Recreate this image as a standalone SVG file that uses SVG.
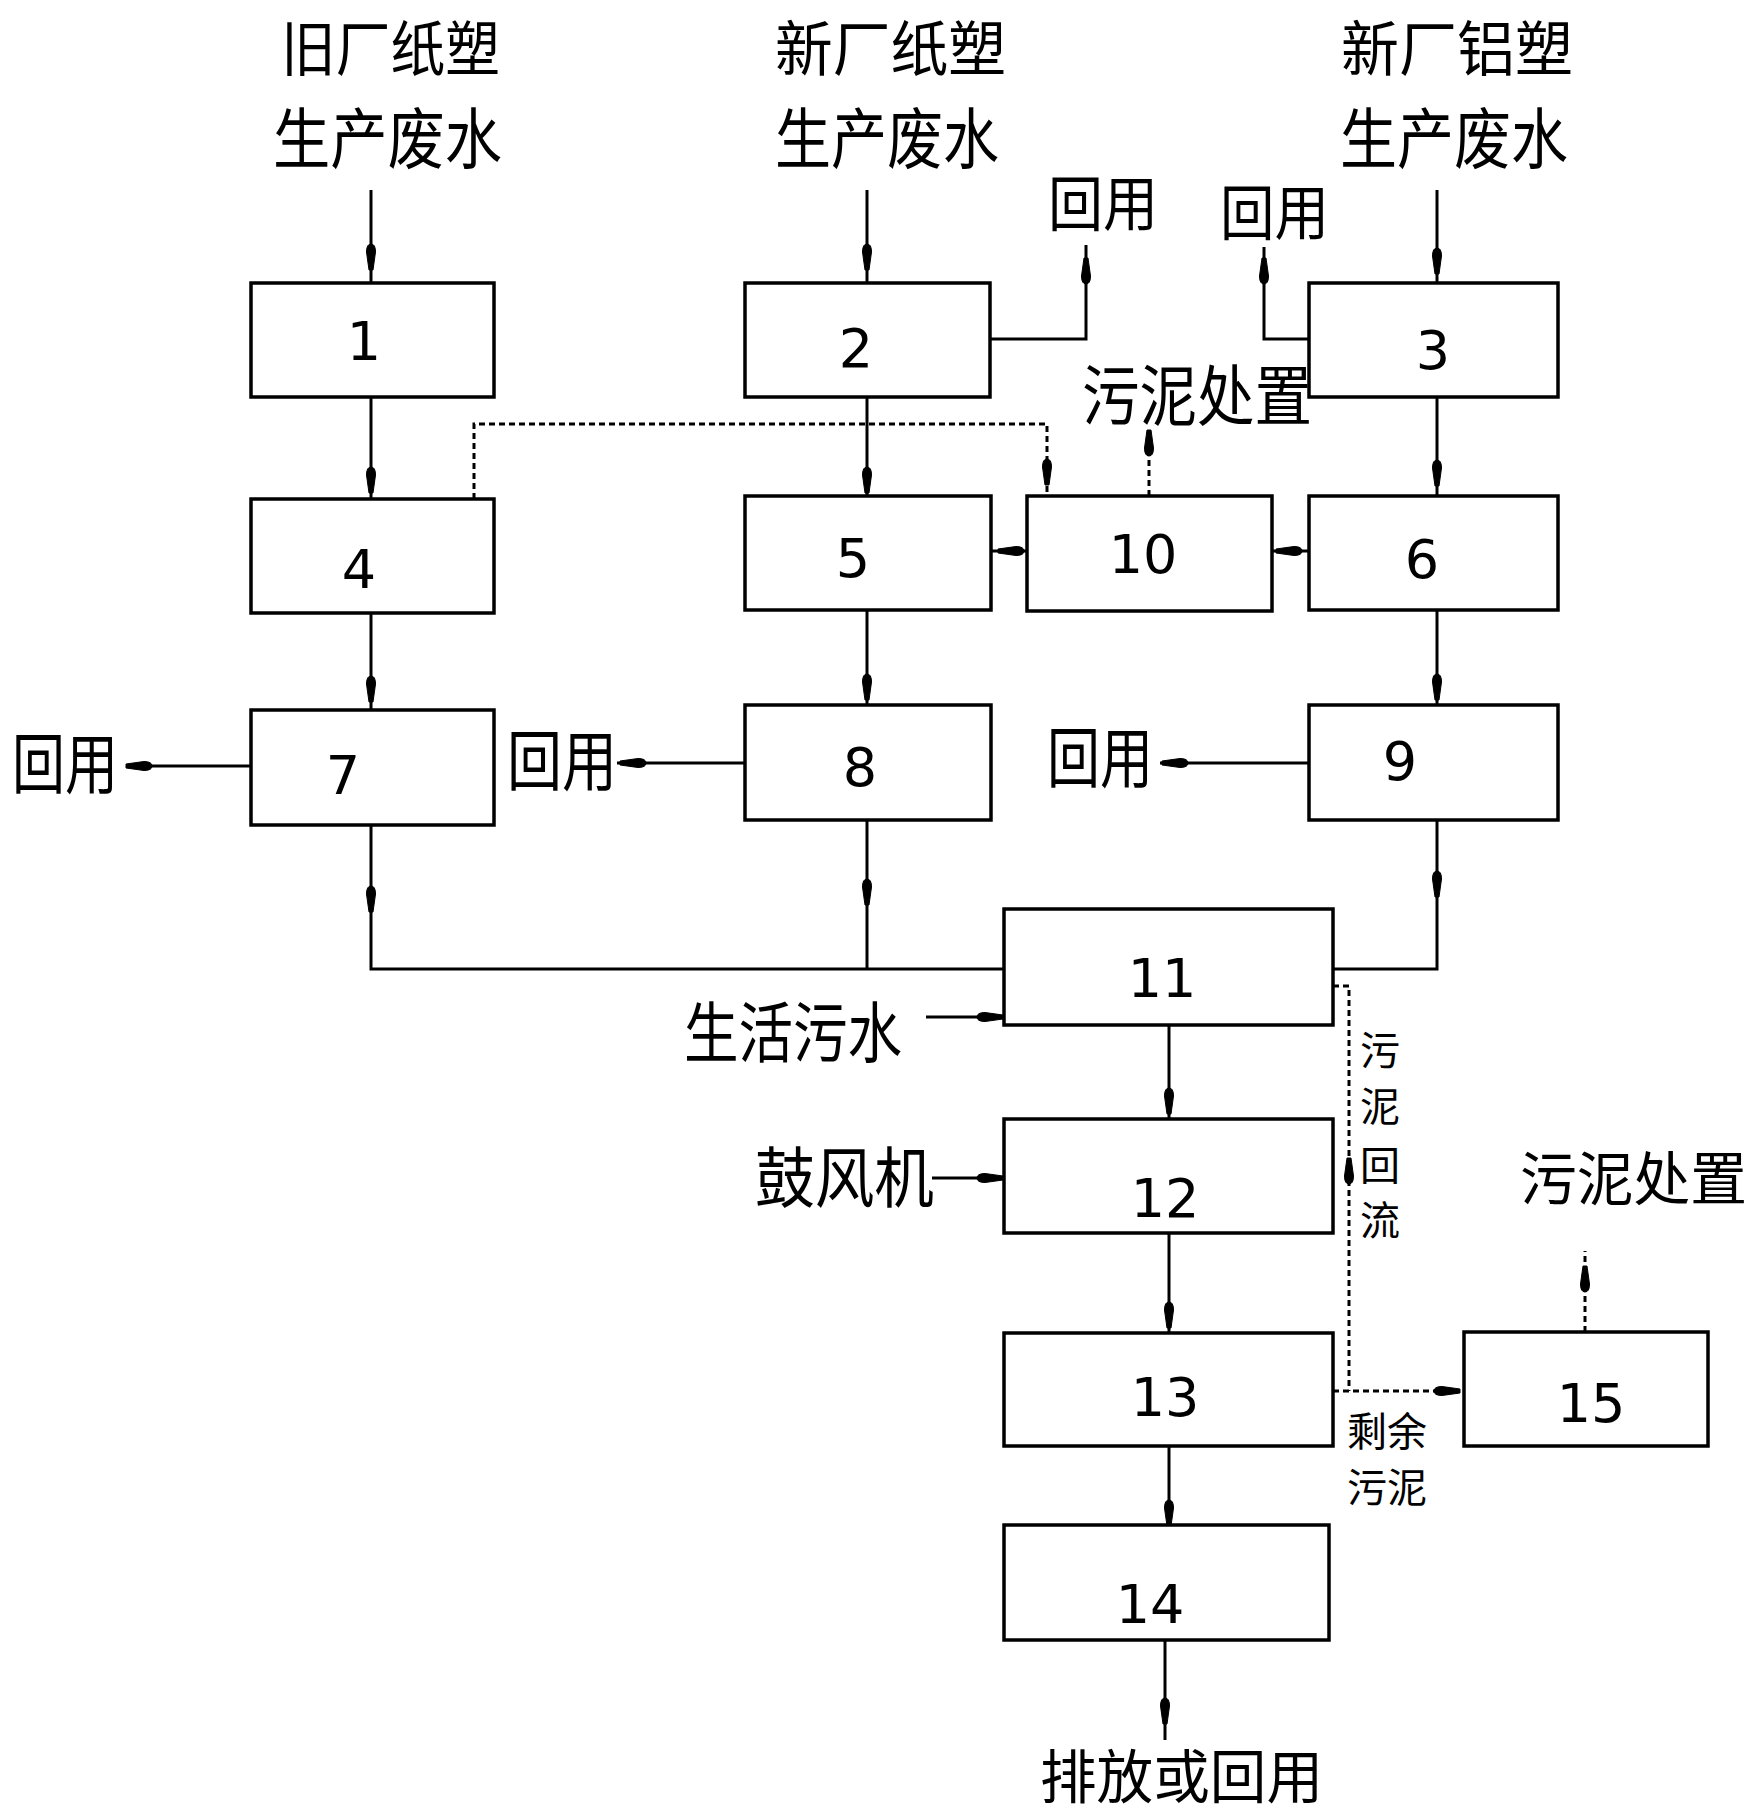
<svg xmlns="http://www.w3.org/2000/svg" xmlns:xlink="http://www.w3.org/1999/xlink" width="1760" height="1816" viewBox="0 0 1760 1816">
<style>
.box{fill:#fff;stroke:#000;stroke-width:3.5}
.num{font-family:"DejaVu Sans",sans-serif;font-size:54px;text-anchor:middle;fill:#000}
.lbl{font-family:"Noto Sans CJK SC","Noto Sans CJK JP",sans-serif;fill:#000}
.big{font-size:66px}
.top{font-size:60px}
.mid{font-size:60px}
.sm{font-size:40px}
.ln{fill:none;stroke:#000;stroke-width:3}
.dash{stroke-dasharray:6 4}
.ah{fill:#000;stroke:#000;stroke-width:1;stroke-linejoin:round}
</style>
<defs>
<path id="ah" class="ah" d="M0,-2 L-18,-4.5 Q-26,-4.5 -26,0 Q-26,4.5 -18,4.5 L0,2 Z"/>
</defs>
<rect x="0" y="0" width="1760" height="1816" fill="#fff"/>

<g id="connectors">
<path class="ln" d="M371,190 V283"/>
<path class="ln" d="M867,190 V283"/>
<path class="ln" d="M1437,190 V283"/>
<path class="ln" d="M371,397 V499"/>
<path class="ln" d="M867,397 V496"/>
<path class="ln" d="M1437,397 V496"/>
<path class="ln" d="M990,339 H1086 V245"/>
<path class="ln" d="M1309,339 H1264 V247"/>
<path class="ln" d="M1027,551 H991"/>
<path class="ln" d="M1309,551 H1272"/>
<path class="ln" d="M371,613 V710"/>
<path class="ln" d="M867,610 V705"/>
<path class="ln" d="M1437,610 V705"/>
<path class="ln" d="M251,766 H128"/>
<path class="ln" d="M745,763 H617"/>
<path class="ln" d="M1309,763 H1160"/>
<path class="ln" d="M371,825 V969 H1004"/>
<path class="ln" d="M867,820 V969"/>
<path class="ln" d="M1437,820 V969 H1333"/>
<path class="ln" d="M926,1017 H1004"/>
<path class="ln" d="M1169,1025 V1119"/>
<path class="ln" d="M932,1178 H1004"/>
<path class="ln" d="M1169,1233 V1333"/>
<path class="ln" d="M1169,1446 V1525"/>
<path class="ln" d="M1165,1640 V1740"/>
<path class="ln dash" d="M474,499 V424 H1047 V496"/>
<path class="ln dash" d="M1149,496 V429"/>
<path class="ln dash" d="M1333,986 H1349 V1391"/>
<path class="ln dash" d="M1333,1391 H1464"/>
<path class="ln dash" d="M1585,1332 V1251"/>

<use xlink:href="#ah" transform="translate(371,270) rotate(90)"/>
<use xlink:href="#ah" transform="translate(867,270) rotate(90)"/>
<use xlink:href="#ah" transform="translate(1437,274) rotate(90)"/>
<use xlink:href="#ah" transform="translate(371,493) rotate(90)"/>
<use xlink:href="#ah" transform="translate(867,493) rotate(90)"/>
<use xlink:href="#ah" transform="translate(1437,486) rotate(90)"/>
<use xlink:href="#ah" transform="translate(1086,258) rotate(-90)"/>
<use xlink:href="#ah" transform="translate(1264,258) rotate(-90)"/>
<use xlink:href="#ah" transform="translate(998,551) rotate(180)"/>
<use xlink:href="#ah" transform="translate(1276,551) rotate(180)"/>
<use xlink:href="#ah" transform="translate(371,702) rotate(90)"/>
<use xlink:href="#ah" transform="translate(867,700) rotate(90)"/>
<use xlink:href="#ah" transform="translate(1437,700) rotate(90)"/>
<use xlink:href="#ah" transform="translate(126,766) rotate(180)"/>
<use xlink:href="#ah" transform="translate(620,763) rotate(180)"/>
<use xlink:href="#ah" transform="translate(1162,763) rotate(180)"/>
<use xlink:href="#ah" transform="translate(371,912) rotate(90)"/>
<use xlink:href="#ah" transform="translate(867,905) rotate(90)"/>
<use xlink:href="#ah" transform="translate(1437,897) rotate(90)"/>
<use xlink:href="#ah" transform="translate(1003,1017)"/>
<use xlink:href="#ah" transform="translate(1169,1114) rotate(90)"/>
<use xlink:href="#ah" transform="translate(1003,1178)"/>
<use xlink:href="#ah" transform="translate(1169,1328) rotate(90)"/>
<use xlink:href="#ah" transform="translate(1169,1526) rotate(90)"/>
<use xlink:href="#ah" transform="translate(1165,1724) rotate(90)"/>
<use xlink:href="#ah" transform="translate(1047,485) rotate(90)"/>
<use xlink:href="#ah" transform="translate(1149,430) rotate(-90)"/>
<use xlink:href="#ah" transform="translate(1349,1158) rotate(-90)"/>
<use xlink:href="#ah" transform="translate(1460,1391)"/>
<use xlink:href="#ah" transform="translate(1585,1266) rotate(-90)"/>
</g>

<g id="src1"><text class="lbl top" x="281" y="71" textLength="219" lengthAdjust="spacingAndGlyphs">旧厂纸塑</text><text class="lbl big" x="273" y="163" textLength="229" lengthAdjust="spacingAndGlyphs">生产废水</text></g>
<g id="src2"><text class="lbl top" x="775" y="71" textLength="231" lengthAdjust="spacingAndGlyphs">新厂纸塑</text><text class="lbl big" x="775" y="163" textLength="224" lengthAdjust="spacingAndGlyphs">生产废水</text></g>
<g id="src3"><text class="lbl top" x="1341" y="71" textLength="232" lengthAdjust="spacingAndGlyphs">新厂铝塑</text><text class="lbl big" x="1340" y="163" textLength="228" lengthAdjust="spacingAndGlyphs">生产废水</text></g>

<g id="reuse2"><text class="lbl mid" x="1048" y="226" textLength="110" lengthAdjust="spacingAndGlyphs">回用</text></g>
<g id="reuse3"><text class="lbl mid" x="1220" y="235" textLength="109" lengthAdjust="spacingAndGlyphs">回用</text></g>
<g id="reuse7"><text class="lbl big" x="12" y="788" textLength="106" lengthAdjust="spacingAndGlyphs">回用</text></g>
<g id="reuse8"><text class="lbl big" x="507" y="785" textLength="110" lengthAdjust="spacingAndGlyphs">回用</text></g>
<g id="reuse9"><text class="lbl big" x="1047" y="782" textLength="106" lengthAdjust="spacingAndGlyphs">回用</text></g>
<g id="sludge1"><text class="lbl big" x="1082" y="420" textLength="230" lengthAdjust="spacingAndGlyphs">污泥处置</text></g>
<g id="domestic"><text class="lbl big" x="684" y="1057" textLength="218" lengthAdjust="spacingAndGlyphs">生活污水</text></g>
<g id="blower"><text class="lbl big" x="755" y="1202" textLength="179" lengthAdjust="spacingAndGlyphs">鼓风机</text></g>
<g id="outlet"><text class="lbl" style="font-size:58px" x="1040" y="1798" textLength="283" lengthAdjust="spacingAndGlyphs">排放或回用</text></g>
<g id="sludge2"><text class="lbl" style="font-size:58px" x="1520" y="1200" textLength="227" lengthAdjust="spacingAndGlyphs">污泥处置</text></g>
<g id="returnlbl">
<text class="lbl sm" x="1380" y="1065" text-anchor="middle">污</text>
<text class="lbl sm" x="1380" y="1121" text-anchor="middle">泥</text>
<text class="lbl sm" x="1380" y="1180" text-anchor="middle">回</text>
<text class="lbl sm" x="1380" y="1235" text-anchor="middle">流</text>
</g>
<g id="excesslbl">
<text class="lbl sm" x="1347" y="1446" textLength="80" lengthAdjust="spacingAndGlyphs">剩余</text>
<text class="lbl sm" x="1347" y="1502" textLength="80" lengthAdjust="spacingAndGlyphs">污泥</text>
</g>

<g id="n1"><rect class="box" x="251" y="283" width="243" height="114"/><text class="num" x="364" y="360">1</text></g>
<g id="n2"><rect class="box" x="745" y="283" width="245" height="114"/><text class="num" x="856" y="367">2</text></g>
<g id="n3"><rect class="box" x="1309" y="283" width="249" height="114"/><text class="num" x="1433" y="369">3</text></g>
<g id="n4"><rect class="box" x="251" y="499" width="243" height="114"/><text class="num" x="359" y="588">4</text></g>
<g id="n5"><rect class="box" x="745" y="496" width="246" height="114"/><text class="num" x="853" y="577">5</text></g>
<g id="n10"><rect class="box" x="1027" y="496" width="245" height="115"/><text class="num" x="1143" y="573">10</text></g>
<g id="n6"><rect class="box" x="1309" y="496" width="249" height="114"/><text class="num" x="1422" y="578">6</text></g>
<g id="n7"><rect class="box" x="251" y="710" width="243" height="115"/><text class="num" x="343" y="794">7</text></g>
<g id="n8"><rect class="box" x="745" y="705" width="246" height="115"/><text class="num" x="860" y="786">8</text></g>
<g id="n9"><rect class="box" x="1309" y="705" width="249" height="115"/><text class="num" x="1400" y="780">9</text></g>
<g id="n11"><rect class="box" x="1004" y="909" width="329" height="116"/><text class="num" x="1162" y="997">11</text></g>
<g id="n12"><rect class="box" x="1004" y="1119" width="329" height="114"/><text class="num" x="1165" y="1217">12</text></g>
<g id="n13"><rect class="box" x="1004" y="1333" width="329" height="113"/><text class="num" x="1165" y="1416">13</text></g>
<g id="n14"><rect class="box" x="1004" y="1525" width="325" height="115"/><text class="num" x="1150" y="1623">14</text></g>
<g id="n15"><rect class="box" x="1464" y="1332" width="244" height="114"/><text class="num" x="1591" y="1422">15</text></g>
</svg>
